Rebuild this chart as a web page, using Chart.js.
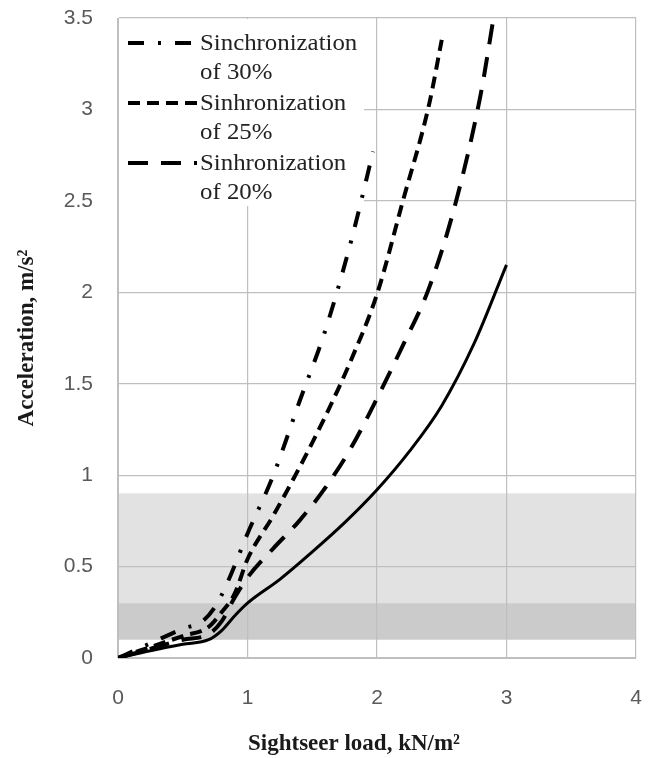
<!DOCTYPE html>
<html>
<head>
<meta charset="utf-8">
<title>Sightseer load vs acceleration</title>
<script src="https://cdn.jsdelivr.net/npm/chart.js@4/dist/chart.umd.min.js"></script>
<style>
  html, body { margin: 0; padding: 0; background: #fff; }
  #wrap { width: 651px; height: 758px; }
</style>
</head>
<body>
<div id="wrap"><canvas id="accChart" width="651" height="758"></canvas></div>
<script>
// ======================
// Data
// ======================
const xTicks = [0, 1, 2, 3, 4];
const yTicks = [0, 0.5, 1, 1.5, 2, 2.5, 3, 3.5];

// no synchronization (solid)
const baseLoad = [0, 0.25, 0.5, 0.7, 0.8, 0.9, 1, 1.25, 1.5, 1.75, 2, 2.25, 2.5, 2.75, 3];
const baseAcc  = [0, 0.04, 0.075, 0.1, 0.15, 0.23, 0.3, 0.43, 0.58, 0.74, 0.92, 1.13, 1.38, 1.72, 2.15];

// 20% synchronization
const sync20Load = [0, 0.25, 0.5, 0.7, 0.8, 0.9, 1, 1.2, 1.4, 1.6, 1.8, 2, 2.2, 2.4, 2.6, 2.8, 2.9];
const sync20Acc  = [0, 0.05, 0.1, 0.13, 0.2, 0.33, 0.44, 0.6, 0.75, 0.93, 1.15, 1.42, 1.71, 2.02, 2.47, 3.08, 3.5];

// 25% synchronization
const sync25Load = [0, 0.25, 0.5, 0.7, 0.8, 0.9, 1, 1.2, 1.4, 1.6, 1.8, 2, 2.2, 2.4, 2.5];
const sync25Acc  = [0, 0.06, 0.12, 0.17, 0.25, 0.35, 0.54, 0.78, 1.04, 1.32, 1.63, 1.99, 2.5, 3.02, 3.38];

// 30% synchronization
const sync30Load = [0, 0.25, 0.5, 0.65, 0.75, 0.85, 1, 1.2, 1.4, 1.6, 1.8, 1.97];
const sync30Acc  = [0, 0.08, 0.16, 0.2, 0.28, 0.42, 0.68, 1.0, 1.4, 1.79, 2.28, 2.77];

// comfort bands [from, to]
const bandDark  = [0.1, 0.3];
const bandLight = [0.3, 0.9];

const legendLabels = [
  ["Sinchronization", "of 30%"],
  ["Sinhronization", "of 25%"],
  ["Sinhronization", "of 20%"]
];

const xTitle = "Sightseer load, kN/m²";
const yTitle = "Acceleration, m/s²";

// ======================
// Helpers
// ======================
function toPoints(xs, ys) {
  return xs.map((x, i) => ({ x: x, y: ys[i] }));
}

function makeSet(label, xs, ys, width, dash) {
  return {
    label: label,
    data: toPoints(xs, ys),
    showLine: true,
    borderColor: "#000",
    borderWidth: width,
    borderDash: dash,
    borderCapStyle: "butt",
    pointRadius: 0,
    fill: false,
    cubicInterpolationMode: "monotone"
  };
}

// shaded bands under the grid
const bandPlugin = {
  id: "bands",
  beforeDraw(chart) {
    const { ctx, chartArea, scales } = chart;
    const y = scales.y;
    ctx.save();
    ctx.fillStyle = "#e2e2e2";
    ctx.fillRect(chartArea.left, y.getPixelForValue(bandLight[1]), chartArea.width,
      y.getPixelForValue(bandLight[0]) - y.getPixelForValue(bandLight[1]));
    ctx.fillStyle = "#cbcbcb";
    ctx.fillRect(chartArea.left, y.getPixelForValue(bandDark[1]), chartArea.width,
      y.getPixelForValue(bandDark[0]) - y.getPixelForValue(bandDark[1]));
    ctx.restore();
  }
};

// legend box in the top-left corner, two-line labels
const legendPlugin = {
  id: "boxLegend",
  beforeDatasetsDraw(chart) {
    const { ctx, chartArea } = chart;
    const sets = chart.data.datasets;
    ctx.save();
    ctx.fillStyle = "#fff";
    ctx.fillRect(chartArea.left + 1, chartArea.top + 1, 245, 187);
    ctx.font = "23px 'Liberation Serif', 'DejaVu Serif', serif";
    ctx.textBaseline = "middle";
    ctx.fillStyle = "#222";
    legendLabels.forEach((lines, i) => {
      const ds = sets[i + 1];
      const rowY = chartArea.top + 25 + i * 60;
      const tx = chartArea.left + 82;
      ctx.strokeStyle = "#000";
      ctx.lineWidth = 4;
      ctx.setLineDash(ds.borderDash);
      ctx.beginPath();
      ctx.moveTo(chartArea.left + 10, rowY);
      ctx.lineTo(chartArea.left + 79, rowY);
      ctx.stroke();
      // text in the picture is a bit wide, stretch it a little
      ctx.save();
      ctx.translate(tx, rowY + 1);
      ctx.scale(1.08, 1);
      ctx.fillText(lines[0], 0, 0);
      ctx.fillText(lines[1], 0, 29);
      ctx.restore();
    });
    ctx.restore();
  }
};

// x title sits a bit left of the plot centre in the original
const xTitlePlugin = {
  id: "xTitle",
  afterDraw(chart) {
    const { ctx, chartArea } = chart;
    ctx.save();
    ctx.font = "bold 23px 'Liberation Serif', 'DejaVu Serif', serif";
    ctx.fillStyle = "#1a1a1a";
    ctx.textAlign = "center";
    ctx.textBaseline = "middle";
    ctx.fillText(xTitle, chartArea.left + 236, chartArea.bottom + 86);
    ctx.restore();
  }
};

const tickFont = { family: "'Liberation Sans', Arial, sans-serif", size: 21 };
const titleFont = { family: "'Liberation Serif', 'DejaVu Serif', serif", size: 23, weight: "bold" };

// ======================
// Chart
// ======================
new Chart(document.getElementById("accChart"), {
  type: "scatter",
  data: {
    datasets: [
      makeSet("No synchronization", baseLoad, baseAcc, 3, []),
      makeSet("Sinchronization of 30%", sync30Load, sync30Acc, 4, [16, 14, 3, 14]),
      makeSet("Sinhronization of 25%", sync25Load, sync25Acc, 4, [12, 7]),
      makeSet("Sinhronization of 20%", sync20Load, sync20Acc, 4, [20, 13])
    ]
  },
  options: {
    responsive: false,
    animation: false,
    layout: { padding: { top: 18, right: 15, left: 0, bottom: 0 } },
    plugins: {
      legend: { display: false },
      tooltip: { enabled: false }
    },
    scales: {
      x: {
        type: "linear",
        min: 0,
        max: 4,
        afterBuildTicks(scale) { scale.ticks = xTicks.map(v => ({ value: v })); },
        afterFit(scale) {
          scale.height = 100;
          scale.paddingLeft = 0;
          scale.paddingRight = 0;
        },
        grid: { color: "#bfbfbf", lineWidth: 1.2, drawTicks: false },
        border: { color: "#bfbfbf" },
        ticks: {
          padding: 28,
          color: "#595959",
          font: tickFont,
          callback: v => String(v)
        },
        title: { display: false }
      },
      y: {
        type: "linear",
        min: 0,
        max: 3.5,
        afterBuildTicks(scale) { scale.ticks = yTicks.map(v => ({ value: v })); },
        afterFit(scale) {
          scale.width = 118;
          scale.paddingTop = 0;
          scale.paddingBottom = 0;
        },
        grid: { color: "#bfbfbf", lineWidth: 1.2, drawTicks: false },
        border: { color: "#bfbfbf" },
        ticks: {
          padding: 25,
          color: "#595959",
          font: tickFont,
          callback: v => String(v)
        },
        title: {
          display: true,
          text: yTitle,
          color: "#1a1a1a",
          padding: { top: 13, bottom: 0 },
          font: titleFont
        }
      }
    }
  },
  plugins: [bandPlugin, legendPlugin, xTitlePlugin]
});
</script>
</body>
</html>
